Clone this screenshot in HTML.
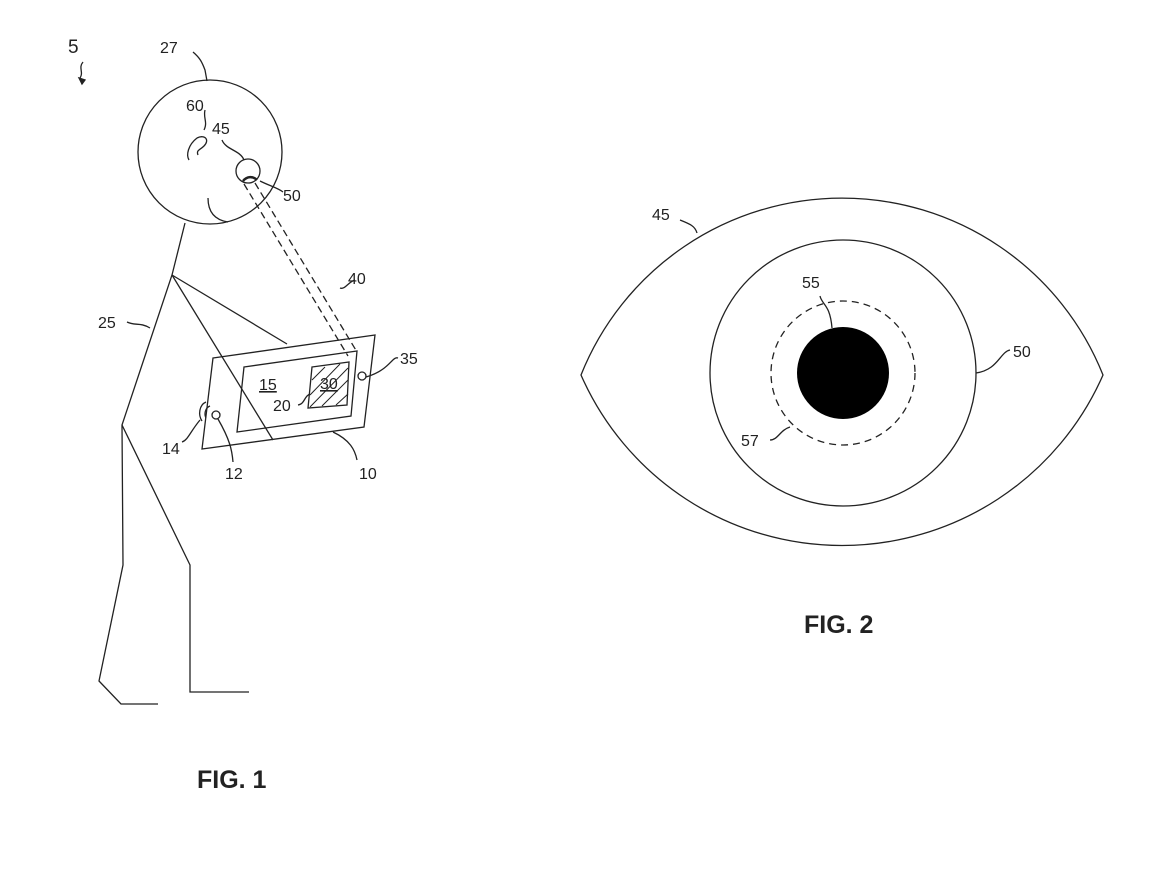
<!DOCTYPE html>
<html><head><meta charset="utf-8"><style>
html,body{margin:0;padding:0;background:#fff;}
svg{display:block;}
text{font-family:"Liberation Sans",sans-serif;fill:#222;}
</style></head><body>
<svg width="1153" height="871" viewBox="0 0 1153 871" xmlns="http://www.w3.org/2000/svg">
<g fill="none" stroke="#222" stroke-width="1.3">
<circle cx="210" cy="152" r="72"/>
<path d="M197 138 C188 145 186 155 189 160 M197 138 C205 134 210 140 204 146 C200 150 196 150 198 155"/>
<circle cx="248" cy="171" r="12"/>
<path d="M243 181 C247 176 253 176 257 180" stroke-width="2.5"/>
<path d="M208 198 C208 212 215 220 228 222"/>
<path d="M185 223 L172 275 L122 425 L123 565 L99 681 L121 704 L158 704"/>
<path d="M122 425 L190 565 L190 692 L249 692"/>
<path d="M172 275 L287 344"/>
<path d="M172 275 L273 440"/>
<path d="M244 184 L348 356" stroke-dasharray="7 4"/>
<path d="M255 183 L357 352" stroke-dasharray="7 4"/>
<path d="M213 358 L375 335 L364 427 L202 449 Z"/>
<path d="M244 367 L357 351 L351 416 L237 432 Z"/>
<path d="M312 367 L349 362 L347 405 L308 408 Z"/>
<path d="M312 380 L325 367 M310 395 L340 364 M310 407 L348 368 M322 406 L348 380 M336 405 L348 394" stroke-width="1"/>
<circle cx="362" cy="376" r="4"/>
<circle cx="216" cy="415" r="4"/>
<path d="M210 406 C205 408 204 414 206 418 M206 402 C199 405 198 415 202 421"/>
<path d="M83 62 C78 68 84 72 80 78 L82 84"/>
<path d="M82 84 l-3 -6 l6 2 z" fill="#222"/>
<path d="M193 52 C200 58 202 62 205 70 L207 81"/>
<path d="M205 110 C203 118 208 122 204 130"/>
<path d="M222 140 C226 150 240 150 244 160"/>
<path d="M283 192 C278 188 270 186 260 181"/>
<path d="M355 280 C348 282 345 290 340 288"/>
<path d="M127 322 C135 326 140 322 150 328"/>
<path d="M398 358 C392 356 390 370 366 377"/>
<path d="M298 405 C305 404 304 396 310 394"/>
<path d="M182 442 C188 440 190 432 200 420"/>
<path d="M233 462 C232 450 230 440 218 419"/>
<path d="M357 460 C355 450 350 440 333 432"/>
<path d="M581 375 A281 281 0 0 1 1103 375 A285 285 0 0 1 581 375 Z"/>
<circle cx="843" cy="373" r="133"/>
<circle cx="843" cy="373" r="72" stroke-dasharray="7 5"/>
<path d="M680 220 C690 224 695 226 697 233"/>
<path d="M820 296 C822 305 830 304 832 328"/>
<path d="M1010 350 C1000 352 998 370 976 373"/>
<path d="M770 440 C778 440 780 430 790 427"/>
</g>
<circle cx="843" cy="373" r="46" fill="#000"/>
<g font-size="16">
<text x="68" y="53" font-size="19">5</text>
<text x="160" y="53">27</text>
<text x="186" y="111">60</text>
<text x="212" y="134">45</text>
<text x="283" y="201">50</text>
<text x="348" y="284">40</text>
<text x="98" y="328">25</text>
<text x="400" y="364">35</text>
<text x="259" y="390" text-decoration="underline">15</text>
<text x="320" y="389" text-decoration="underline">30</text>
<text x="273" y="411">20</text>
<text x="162" y="454">14</text>
<text x="225" y="479">12</text>
<text x="359" y="479">10</text>
<text x="652" y="220">45</text>
<text x="802" y="288">55</text>
<text x="1013" y="357">50</text>
<text x="741" y="446">57</text>
</g>
<text x="197" y="788" font-size="25" font-weight="bold" style="fill:#222">FIG. 1</text>
<text x="804" y="633" font-size="25" font-weight="bold" style="fill:#222">FIG. 2</text>
</svg>
</body></html>
